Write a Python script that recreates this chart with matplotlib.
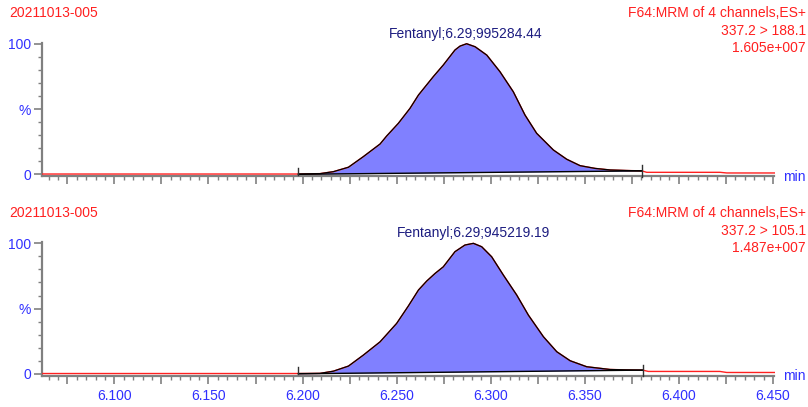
import matplotlib
matplotlib.use("Agg")
import matplotlib.pyplot as plt
import numpy as np
from matplotlib.ticker import MultipleLocator, FixedLocator

plt.rcParams['font.family'] = ['Liberation Sans', 'DejaVu Sans']

# ---------------- data ----------------
sample_name = "20211013-005"
channel_title = "F64:MRM of 4 channels,ES+"
transitions = ["337.2 > 188.1", "337.2 > 105.1"]
max_intensity = ["1.605e+007", "1.487e+007"]
peak_labels = ["Fentanyl;6.29;995284.44", "Fentanyl;6.29;945219.19"]
apex_rt = [6.2867, 6.2908]

# top trace (time in min, % of max)
t1 = [6.062, 6.150, 6.1978, 6.2093, 6.2164, 6.2244, 6.2323, 6.2412, 6.2447, 6.2509,
      6.2571, 6.2616, 6.2695, 6.2748, 6.2810, 6.2837, 6.2872, 6.2917, 6.2979, 6.3049,
      6.3120, 6.3182, 6.3244, 6.3333, 6.3404, 6.3475, 6.3555, 6.3635, 6.3720, 6.3803,
      6.3829, 6.4000, 6.4218, 6.4254, 6.4520]
i1 = [0.2, 0.2, 0.2, 0.5, 2.0, 5.4, 13.5, 23.2, 29.3, 39.0,
      50.5, 60.7, 74.8, 83.7, 95.2, 98.2, 100.0, 97.7, 91.3, 78.6,
      63.2, 45.4, 31.4, 18.6, 11.5, 6.6, 4.5, 3.3, 2.9, 2.6,
      1.5, 1.5, 1.5, 1.0, 1.0]
# bottom trace
t2 = [6.062, 6.150, 6.1978, 6.2093, 6.2164, 6.2244, 6.2323, 6.2412, 6.2500, 6.2562,
      6.2616, 6.2660, 6.2704, 6.2748, 6.2810, 6.2863, 6.2908, 6.2952, 6.3005, 6.3067,
      6.3138, 6.3200, 6.3280, 6.3351, 6.3422, 6.3510, 6.3634, 6.3720, 6.3808, 6.3837,
      6.4000, 6.4218, 6.4254, 6.4520]
i2 = [0.2, 0.2, 0.2, 0.3, 2.0, 5.9, 14.3, 24.5, 38.6, 51.9,
      64.2, 71.1, 76.9, 82.0, 93.6, 98.7, 100.0, 97.4, 89.7, 75.7,
      60.4, 45.0, 28.4, 16.9, 10.0, 5.4, 3.3, 3.0, 2.8, 1.8,
      1.8, 1.8, 1.0, 1.0]

peak_start = [6.1978, 6.1978]
peak_end = [6.3803, 6.3808]
base_start = [0.0, 0.0]
base_end = [2.6, 2.8]

traces = [(t1, i1), (t2, i2)]

x_ticks = [6.100, 6.150, 6.200, 6.250, 6.300, 6.350, 6.400, 6.450]
x_tick_labels = ["6.100", "6.150", "6.200", "6.250", "6.300", "6.350", "6.400", "6.450"]

# ---------------- styles ----------------
RED = "#ff2020"
BLUE = "#3030ff"
NAVY = "#1c1c80"
GRAY = "#808080"
FILL = "#8080ff"
FS = 10
W, H = 808, 407

fig = plt.figure(figsize=(W / 100, H / 100), dpi=100)

left = 42.3 / W
width = (774.5 - 42.3) / W
panel_tops = [42.7, 242.3]
panel_bots = [176.5, 376.0]
label_y = [107.2, 107.7]

for k in range(2):
    top_px, bot_px = panel_tops[k], panel_bots[k]
    ax = fig.add_axes([left, 1 - bot_px / H, width, (bot_px - top_px) / H])
    t = np.array(traces[k][0])
    y = np.array(traces[k][1])
    ax.set_xlim(6.0617, 6.4508)
    ax.set_ylim(-1.7, 100.8)

    # fill between trace and baseline
    m = (t >= peak_start[k]) & (t <= peak_end[k])
    tm = t[m]
    ym = y[m]
    base = np.interp(tm, [peak_start[k], peak_end[k]], [base_start[k], base_end[k]])
    ax.fill_between(tm, base, ym, color=FILL, lw=0, zorder=2)
    ax.plot(t, y, color=RED, lw=1.0, zorder=3)
    ax.plot(tm, ym, color="black", lw=0.9, zorder=4)
    ax.plot([peak_start[k], peak_end[k]], [base_start[k], base_end[k]], color="black", lw=1.0, zorder=4)
    # integration markers
    ax.plot([peak_start[k]] * 2, [-0.5, 5.0], color="#303030", lw=1.0, zorder=5, clip_on=False)
    ax.plot([peak_end[k]] * 2, [-1.8, 7.0], color="#303030", lw=1.0, zorder=5, clip_on=False)

    # peak label
    ax.text(apex_rt[k], label_y[k], peak_labels[k], color=NAVY, fontsize=FS,
            ha="center", va="center", clip_on=False)

    for s in ["top", "right"]:
        ax.spines[s].set_visible(False)
    for s in ["left", "bottom"]:
        ax.spines[s].set_color(GRAY)
        ax.spines[s].set_linewidth(1.6)

    ax.yaxis.set_major_locator(FixedLocator([0, 50, 100]))
    ax.yaxis.set_minor_locator(MultipleLocator(10))
    ax.set_yticklabels(["0", "%", "100"])
    ax.xaxis.set_major_locator(MultipleLocator(0.025))
    ax.xaxis.set_minor_locator(MultipleLocator(0.005))
    ax.tick_params(axis="both", which="major", length=6, width=1.2, color=GRAY,
                   labelcolor=BLUE, labelsize=FS, pad=2)
    ax.tick_params(axis="both", which="minor", length=3, width=1.0, color=GRAY)
    if k == 1:
        labels = []
        for v in ax.get_xticks():
            s = "%.3f" % v
            labels.append(s if s in x_tick_labels else "")
        ax.set_xticklabels(labels)
        ax.tick_params(axis="x", which="major", pad=3)
    else:
        ax.set_xticklabels([])
    ax.patch.set_alpha(0)

    # header texts
    y0 = top_px - 29.4
    fig.text(9.3 / W, 1 - y0 / H, sample_name, color=RED, fontsize=FS, ha="left", va="center")
    fig.text(806 / W, 1 - y0 / H, channel_title, color=RED, fontsize=FS, ha="right", va="center")
    fig.text(806 / W, 1 - (y0 + 17.8) / H, transitions[k], color=RED, fontsize=FS, ha="right", va="center")
    fig.text(806 / W, 1 - (y0 + 35.0) / H, max_intensity[k], color=RED, fontsize=FS, ha="right", va="center")
    fig.text(783 / W, 1 - (bot_px + 0.5) / H, "min", color=BLUE, fontsize=FS, ha="left", va="center")

fig.savefig("out.png", dpi=100)
